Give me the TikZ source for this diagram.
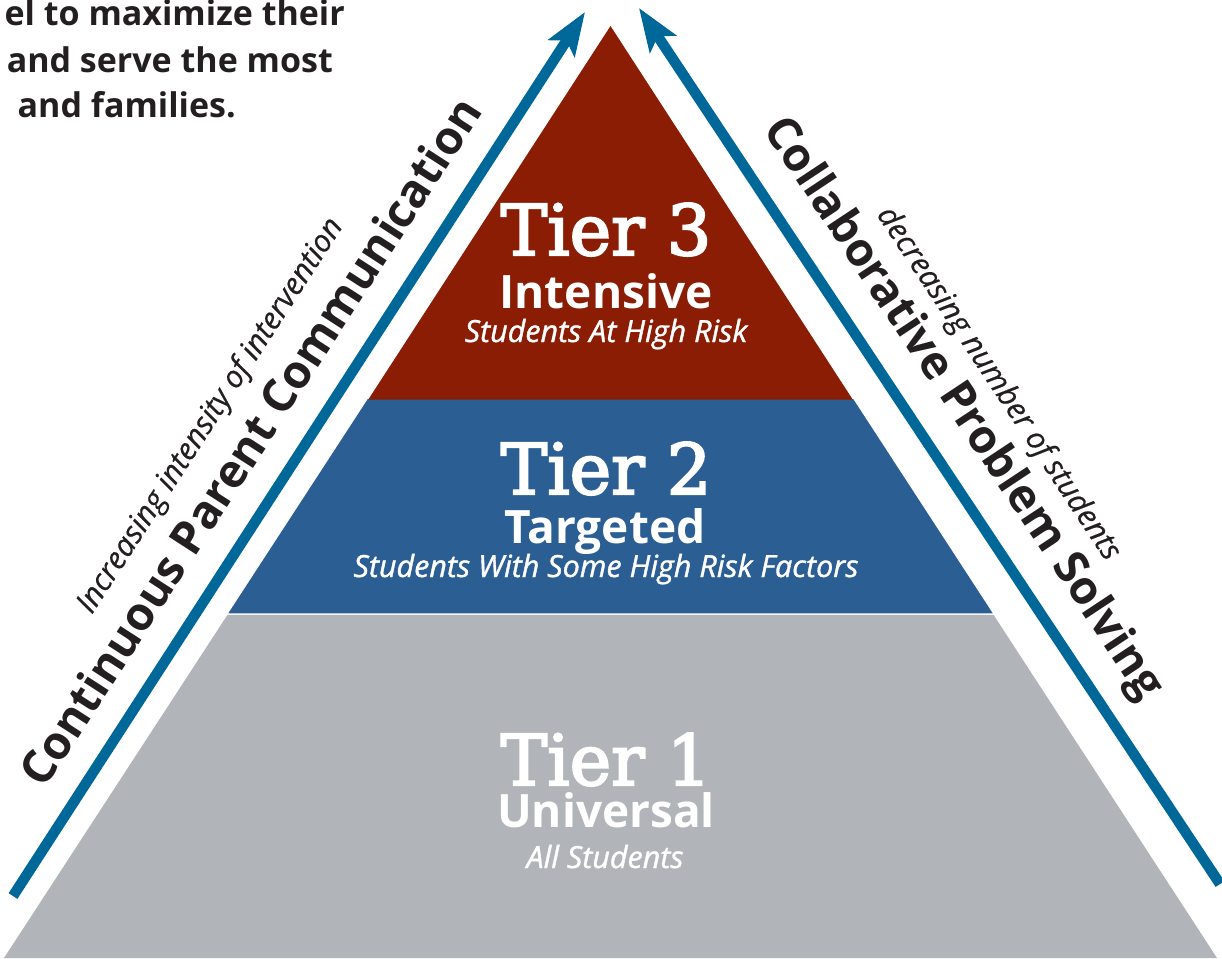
\documentclass[tikz,border=0pt]{standalone}
\usepackage{fontspec}
\setmainfont{DejaVu Serif}
\newfontfamily\tierfont[FakeBold=3]{DejaVu Serif}
\newfontfamily\labelfont{Open Sans}
\newfontfamily\descfont[FakeBold=1.2]{Open Sans}
\newfontfamily\notefont[FakeBold=0.5]{Open Sans}
\usetikzlibrary{arrows.meta}

\definecolor{tierred}{RGB}{138,29,4}
\definecolor{tierblue}{RGB}{43,95,148}
\definecolor{tiergrey}{RGB}{177,181,185}
\definecolor{arrowblue}{RGB}{0,103,153}
\definecolor{inkdark}{RGB}{35,31,32}

\tikzset{
  flowarrow/.style={line width=10.5pt, draw=arrowblue,
    -{Stealth[length=43pt,width=31pt,inset=9pt]}},
  tiertitle/.style={anchor=base, text=white, inner sep=0pt,
    font=\tierfont\fontsize{70}{70}\selectfont},
  tiername/.style={anchor=base, text=white, inner sep=0pt,
    font=\labelfont\bfseries\fontsize{46}{46}\selectfont},
  tierdesc/.style={anchor=base, text=white, inner sep=0pt,
    font=\descfont\itshape\fontsize{30.5}{30.5}\selectfont},
  sidebig/.style={text=inkdark, inner sep=0pt,
    font=\labelfont\bfseries\fontsize{46}{46}\selectfont},
  sidesmall/.style={text=inkdark, inner sep=0pt,
    font=\notefont\itshape\fontsize{30.5}{30.5}\selectfont},
  intro/.style={anchor=base east, text=inkdark, inner sep=0pt,
    font=\labelfont\bfseries\fontsize{34}{34}\selectfont},
}

\begin{document}
\begin{tikzpicture}[x=1pt,y=-1pt]
\useasboundingbox (0,0) rectangle (1222,958);

% pyramid tiers
\fill[tiergrey] (4,958) -- (1217,958) -- (993.5,614.8) -- (227.5,614.8) -- cycle;
\fill[tierblue] (228.3,613.3) -- (992.7,613.3) -- (853.2,399) -- (367.8,399) -- cycle;
\fill[tierred] (368.3,399.5) -- (852.7,399.5) -- (610.5,26) -- cycle;

% tier 3
\node[tiertitle] (t3title) at (606,255) {Tier 3};
\node[tiername]  (t3name)  at (606,308) {Intensive};
\node[tierdesc]  (t3desc)  at (606,342) {Students At High Risk};

% tier 2
\node[tiertitle] (t2title) at (606,494) {Tier 2};
\node[tiername]  (t2name)  at (605,543) {Targeted};
\node[tierdesc]  (t2desc)  at (606,577) {Students With Some High Risk Factors};

% tier 1
\node[tiertitle] (t1title) at (606,785) {Tier 1};
\node[tiername]  (t1name)  at (606,827) {Universal};
\node[tierdesc]  (t1desc)  at (605,868) {All Students};

% side arrows
\coordinate (lbase) at (13,896);
\coordinate (ltip)  at (585,12);
\coordinate (rbase) at (1220,884);
\coordinate (rtip)  at (639,8);
\draw[flowarrow] (lbase) -- (ltip);
\draw[flowarrow] (rbase) -- (rtip);

% side labels
\node[sidebig, rotate=57.1]   (lbig)   at (250,441) {Continuous Parent Communication};
\node[sidesmall, rotate=57.1] (lsmall) at (211,416) {Increasing intensity of intervention};
\node[sidebig, rotate=-56.5]  (rbig)   at (962,409) {Collaborative Problem Solving};
\node[sidesmall, rotate=-56.5] (rsmall) at (998,384) {decreasing number of students};

% introductory text
\node[intro] (intro1) at (345,26)  {el to maximize their};
\node[intro] (intro2) at (333,72)  {and serve the most};
\node[intro] (intro3) at (236,117) {and families.};
\end{tikzpicture}
\end{document}
